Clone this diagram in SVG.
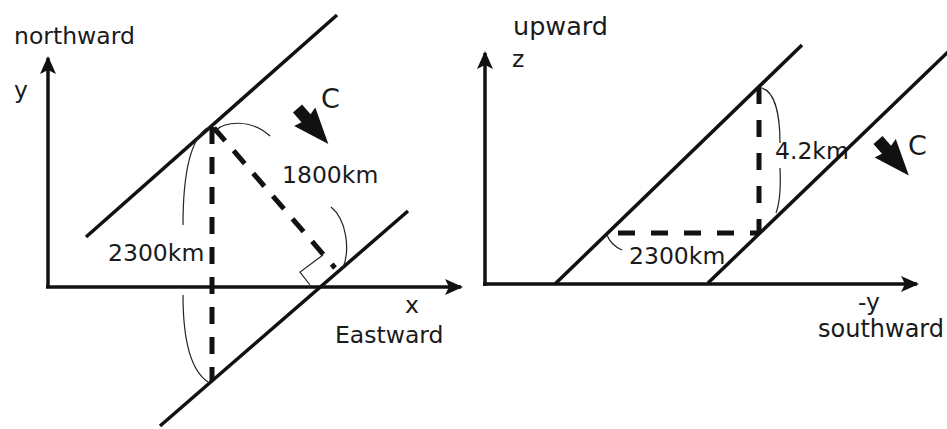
<svg xmlns="http://www.w3.org/2000/svg" width="947" height="429" viewBox="0 0 947 429">
<style>
.bg{fill:#ffffff}
.solid{stroke:#111;stroke-width:3.5;fill:none;stroke-linecap:butt}
.dash{stroke:#111;stroke-width:5;fill:none;stroke-dasharray:17 13}
.dash2{stroke:#111;stroke-width:5;fill:none;stroke-dasharray:17 16}
.thin{stroke:#222;stroke-width:1.2;fill:none}
.lbl{font-family:"DejaVu Sans","Liberation Sans",sans-serif;font-size:23.5px;fill:#1a1a1a}
.big{font-family:"DejaVu Sans","Liberation Sans",sans-serif;font-size:27px;fill:#1a1a1a}
.head{fill:#111}
</style>
<defs>
<polygon id="blockArrow" points="0,-6 13,-6 11,-14 47,0 11,14 13,6 0,6"/>
<marker id="ah" viewBox="0 0 18 16" refX="16" refY="8" markerWidth="18" markerHeight="16" markerUnits="userSpaceOnUse" orient="auto">
<path d="M0,0 L18,8 L0,16 L4,8 Z" fill="#111"/>
</marker>
</defs>
<rect class="bg" x="0" y="0" width="947" height="429"/>

<g id="left-panel">
<g id="left-axes">
<line class="solid" x1="48" y1="287" x2="48" y2="58" marker-end="url(#ah)"/>
<line class="solid" x1="46" y1="287" x2="461" y2="287" marker-end="url(#ah)"/>
</g>
<g id="left-fronts">
<line class="solid" x1="86" y1="237" x2="337" y2="15"/>
<line class="solid" x1="160" y1="426" x2="408" y2="211"/>
</g>
<g id="left-measures">
<line class="dash" x1="212" y1="127" x2="212" y2="381"/>
<line class="dash" x1="214" y1="128" x2="335" y2="268" stroke-dasharray="18 14"/>
<polyline class="thin" points="323,255 300,272 310,285"/>
<path class="thin" d="M207,128 C190,140 183,175 183,225"/>
<path class="thin" d="M183,295 C183,340 190,370 208,382"/>
<path class="thin" d="M216,130 C225,122 250,118 270,136"/>
<path class="thin" d="M331,207 C347,220 350,250 343,268"/>
</g>
<g id="left-flow">
<use href="#blockArrow" class="head" transform="translate(297.5,108.5) rotate(49)"/>
<text class="big" x="321" y="108">C</text>
</g>
<g id="left-labels">
<text class="lbl" x="14" y="44">northward</text>
<text class="lbl" x="14" y="98">y</text>
<text class="lbl" x="108" y="261">2300km</text>
<text class="lbl" x="282" y="183">1800km</text>
<text class="lbl" x="405" y="313">x</text>
<text class="lbl" x="335" y="343">Eastward</text>
</g>
</g>

<g id="right-panel">
<g id="right-axes">
<line class="solid" x1="485" y1="286" x2="485" y2="53" marker-end="url(#ah)"/>
<line class="solid" x1="483" y1="284" x2="917" y2="284" marker-end="url(#ah)"/>
</g>
<g id="right-labels">
<text class="lbl" x="513" y="35" style="font-size:25.5px">upward</text>
<text class="lbl" x="512" y="67">z</text>
<text class="lbl" x="775" y="159">4.2km</text>
<text class="lbl" x="629" y="264">2300km</text>
<text class="lbl" x="858" y="310">-y</text>
<text class="lbl" x="818" y="337" style="font-size:24px">southward</text>
</g>
<g id="right-fronts">
<line class="solid" x1="555" y1="284" x2="802" y2="45"/>
<line class="solid" x1="708" y1="283" x2="950" y2="50"/>
</g>
<g id="right-measures">
<line class="dash2" x1="759" y1="87" x2="759" y2="234"/>
<line class="dash2" x1="618" y1="233" x2="759" y2="233"/>
<path class="thin" d="M762,88 C775,92 780,115 780,143"/>
<path class="thin" d="M780,168 C781,190 779,205 776,213"/>
<path class="thin" d="M607,235 C610,243 615,247 622,250"/>
</g>
<g id="right-flow">
<use href="#blockArrow" class="head" transform="translate(878,140) rotate(49)"/>
<text class="big" x="908" y="155">C</text>
</g>
</g>
</svg>
